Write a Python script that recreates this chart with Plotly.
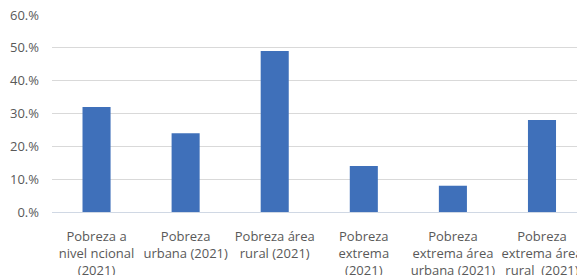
import plotly.graph_objects as go

categories = [
    "Pobreza a<br>nivel ncional<br>(2021)",
    "Pobreza<br>urbana (2021)",
    "Pobreza área<br>rural (2021)",
    "Pobreza<br>extrema<br>(2021)",
    "Pobreza<br>extrema área<br>urbana (2021)",
    "Pobreza<br>extrema área<br>rural  (2021)",
]
values = [32.0, 24.0, 49.0, 14.0, 8.0, 28.0]
y_tickvals = [0, 10, 20, 30, 40, 50, 60]
y_ticktext = ["0.%", "10.%", "20.%", "30.%", "40.%", "50.%", "60.%"]

fig = go.Figure(
    go.Bar(
        x=list(range(len(categories))),
        y=values,
        marker=dict(color="#3f70ba", line=dict(width=0)),
    )
)

fig.update_layout(
    width=577,
    height=275,
    margin=dict(l=52, r=0, t=15, b=63, autoexpand=False),
    paper_bgcolor="white",
    plot_bgcolor="white",
    bargap=0.685,
    showlegend=False,
    font=dict(family="Open Sans", size=13, color="#595959"),
)
fig.update_xaxes(
    tickmode="array",
    tickvals=list(range(len(categories))),
    ticktext=categories,
    range=[-0.5, 5.393],
    showgrid=False,
    zeroline=False,
    showline=False,
    ticks="",
    tickangle=0,
    automargin=False,
    ticklabeloverflow="allow",
    ticklabelstandoff=15,
    tickfont=dict(size=13, color="#595959"),
)
fig.update_yaxes(
    range=[0, 60],
    tickmode="array",
    tickvals=y_tickvals,
    ticktext=y_ticktext,
    showgrid=True,
    gridcolor="#d9d9d9",
    gridwidth=1,
    zeroline=True,
    zerolinecolor="#d0d8e4",
    zerolinewidth=1,
    ticks="",
    automargin=False,
    ticklabelstandoff=12,
    tickfont=dict(size=13, color="#595959"),
)

fig.write_html(
    "out.html",
    config={"displayModeBar": False},
    post_script="document.body.style.margin='0';document.body.style.overflow='hidden';",
)
